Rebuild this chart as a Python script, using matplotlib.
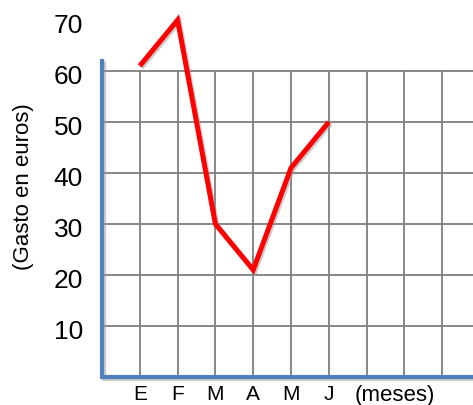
import matplotlib.pyplot as plt
import matplotlib.patheffects as pe

plt.rcParams['font.family'] = ['Liberation Sans', 'DejaVu Sans']

# gasto mensual
meses = ['E', 'F', 'M', 'A', 'M', 'J']
gasto = [61, 70, 30, 21, 41, 50]
valores_y = [10, 20, 30, 40, 50, 60, 70]
lineas_y = [10, 20, 30, 40, 50, 60]
lineas_x = [1, 2, 3, 4, 5, 6, 7, 8, 9]

W, H = 473, 405
fig = plt.figure(figsize=(W / 100, H / 100), dpi=100)
ax = fig.add_axes([102 / W, 28 / H, (W - 102) / W, 377 / H])
xmax = (W - 102) / 37.8
ax.set_xlim(0, xmax)
ax.set_ylim(0, 377 / 5.1)
for s in ax.spines.values():
    s.set_visible(False)
ax.set_yticks([])
ax.set_xticks([])

gris = '#7f7f7f'
for y in lineas_y:
    ax.plot([0, xmax], [y, y], color=gris, lw=1.3, zorder=1, clip_on=False)
for x in lineas_x:
    ax.plot([x, x], [0, 60], color=gris, lw=1.3, zorder=1, clip_on=False)

sombra = [pe.SimpleLineShadow(offset=(1.2, -1.2), shadow_color='#999999', alpha=0.5), pe.Normal()]

# ejes azules
azul = '#4f81bd'
ax.plot([0, 0], [0, 62.3], color=azul, lw=3, solid_capstyle='butt',
        zorder=3, clip_on=False, path_effects=sombra)
ax.plot([-0.05, xmax], [0, 0], color=azul, lw=3, solid_capstyle='butt',
        zorder=3, clip_on=False, path_effects=sombra)

# línea de gasto
x = list(range(1, len(gasto) + 1))
ax.plot(x, gasto, color='#ff0000', lw=3.6, solid_joinstyle='miter',
        solid_capstyle='butt', zorder=4, clip_on=False, path_effects=sombra)

for v in valores_y:
    ax.text(-0.5, v - 1.1, str(v), ha='right', va='center', fontsize=19, clip_on=False)

for i, m in enumerate(meses):
    ax.text(i + 1, -1.6, m, ha='center', va='top', fontsize=15, clip_on=False)
ax.text(7.74, -1.6, '(meses)', ha='center', va='top', fontsize=16, clip_on=False)

fig.text(23 / W, 1 - 187 / H, '(Gasto en euros)', rotation=90, ha='center',
         va='center', fontsize=16)

fig.savefig('out.png', dpi=100)
